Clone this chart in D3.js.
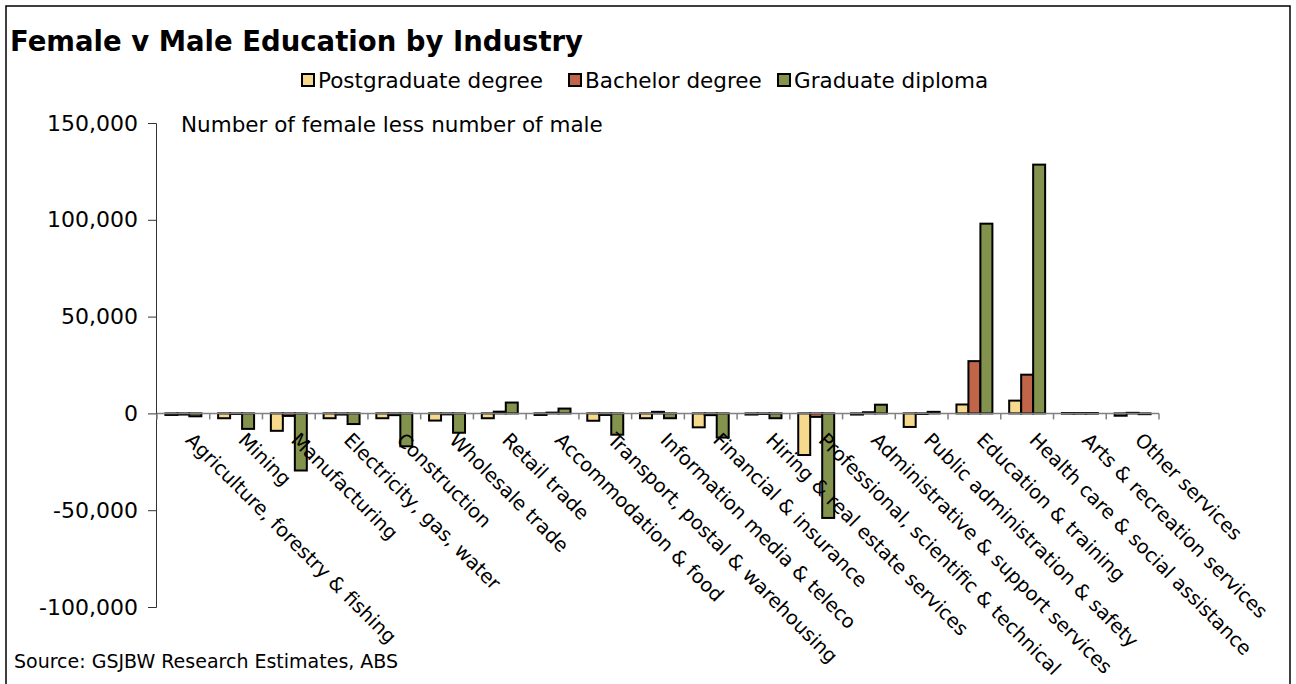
<!DOCTYPE html>
<html>
<head>
<meta charset="utf-8">
<script src="https://cdn.jsdelivr.net/npm/d3@7"></script>
<style>
  body { margin: 0; background: #fff; }
  text { font-family: "DejaVu Sans", Verdana, sans-serif; fill: #000; }
</style>
</head>
<body>
<div class="chart"></div>
<script>
var svgWidth = 1296;
var svgHeight = 684;

var industries = [
  "Agriculture, forestry & fishing", "Mining", "Manufacturing",
  "Electricity, gas, water", "Construction", "Wholesale trade",
  "Retail trade", "Accommodation & food", "Transport, postal & warehousing",
  "Information media & teleco", "Financial & insurance",
  "Hiring & real estate services", "Professional, scientific & technical",
  "Administrative & support services", "Public administration & safety",
  "Education & training", "Health care & social assistance",
  "Arts & recreation services", "Other services"
];

var seriesNames = ["Postgraduate degree", "Bachelor degree", "Graduate diploma"];

var postgrad = [-800, -2500, -9000, -2500, -2500, -3700, -2500, -800, -3800,
  -2500, -7200, -600, -21500, -600, -7000, 4600, 6600, 200, -1200];
var bachelor = [-600, -300, -1300, -600, -900, -500, 900, 400, -800,
  800, -900, -300, -1800, 600, -300, 27000, 20000, 200, 300];
var graddip = [-1500, -8000, -29500, -5500, -17000, -10000, 5600, 2500, -11000,
  -2500, -12500, -2500, -54000, 4500, 800, 98000, 128500, 200, -400];

var yTicks = [-100000, -50000, 0, 50000, 100000, 150000];
var colors = ["#F6D98C", "#C1654A", "#83924D"];

var svg = d3.select(".chart")
  .append("svg")
  .attr("width", svgWidth)
  .attr("height", svgHeight);

// frame
svg.append("rect")
  .attr("x", 6).attr("y", 6)
  .attr("width", 1284).attr("height", 690)
  .attr("fill", "none")
  .attr("stroke", "#000")
  .attr("stroke-width", 1.5);

var x0 = d3.scaleBand()
  .domain(industries)
  .range([157, 1159]);

var x1 = d3.scaleBand()
  .domain(seriesNames)
  .range([0, x0.bandwidth()])
  .paddingOuter(0.7);

var y = d3.scaleLinear()
  .domain([-100000, 150000])
  .range([607, 123]);

var data = industries.map(function (name, i) {
  return { name: name, values: [postgrad[i], bachelor[i], graddip[i]] };
});

var fmt = d3.formatLocale({ decimal: ".", thousands: ",", grouping: [3], currency: ["", ""], minus: "-" }).format(",");

// y axis
var leftAxis = d3.axisLeft(y)
  .tickValues(yTicks)
  .tickFormat(fmt)
  .tickSize(8)
  .tickPadding(10);

var yAxis = svg.append("g")
  .attr("transform", "translate(156,0)")
  .call(leftAxis);
yAxis.select(".domain").attr("stroke", "#333");
yAxis.selectAll(".tick line").attr("stroke", "#333");
yAxis.selectAll("text")
  .style("font-size", "22px")
  .attr("fill", "#000");

// bars
var groups = svg.selectAll(".grp")
  .data(data)
  .enter()
  .append("g")
  .attr("class", "grp")
  .attr("transform", d => `translate(${x0(d.name)},0)`);

groups.selectAll("rect")
  .data(d => d.values.map((v, j) => ({ s: seriesNames[j], v: v, j: j })))
  .enter()
  .append("rect")
  .attr("x", d => x1(d.s))
  .attr("width", x1.bandwidth())
  .attr("y", d => Math.min(y(d.v), y(0)))
  .attr("height", d => Math.max(Math.abs(y(d.v) - y(0)), 0.6))
  .attr("fill", d => colors[d.j])
  .attr("stroke", "#000")
  .attr("stroke-width", 2);

// x axis (category boundary ticks)
var xAxis = svg.append("g");
xAxis.append("line")
  .attr("x1", 157).attr("x2", 1159)
  .attr("y1", y(0)).attr("y2", y(0))
  .attr("stroke", "#808080")
  .attr("stroke-width", 1.5);
xAxis.selectAll(".bt")
  .data(industries.concat(["end"]))
  .enter()
  .append("line")
  .attr("x1", (d, i) => 157 + i * x0.step())
  .attr("x2", (d, i) => 157 + i * x0.step())
  .attr("y1", y(0)).attr("y2", y(0) + 6)
  .attr("stroke", "#808080")
  .attr("stroke-width", 1.5);

svg.selectAll(".cat")
  .data(industries)
  .enter()
  .append("text")
  .attr("class", "cat")
  .attr("transform", d => `translate(${x0(d) + x0.bandwidth() / 2 + 6},${y(0) + 23}) rotate(45)`)
  .attr("dy", "0.35em")
  .style("font-size", "19.5px")
  .text(d => d);

// title
svg.append("text")
  .attr("x", 10)
  .attr("y", 51)
  .style("font-size", "27.5px")
  .style("font-weight", "bold")
  .text("Female v Male Education by Industry");

// legend
var legendX = [302, 569, 778];
var legend = svg.selectAll(".leg")
  .data(seriesNames)
  .enter()
  .append("g")
  .attr("class", "leg")
  .attr("transform", (d, i) => `translate(${legendX[i]},74)`);
legend.append("rect")
  .attr("width", 12).attr("height", 12)
  .attr("fill", (d, i) => colors[i])
  .attr("stroke", "#000")
  .attr("stroke-width", 2);
legend.append("text")
  .attr("x", 16)
  .attr("y", 14)
  .style("font-size", "21.5px")
  .text(d => d);

// y axis note
svg.append("text")
  .attr("x", 181)
  .attr("y", 132)
  .style("font-size", "21.5px")
  .text("Number of female less number of male");

// source
svg.append("text")
  .attr("x", 14)
  .attr("y", 668)
  .style("font-size", "19px")
  .text("Source: GSJBW Research Estimates, ABS");
</script>
</body>
</html>
